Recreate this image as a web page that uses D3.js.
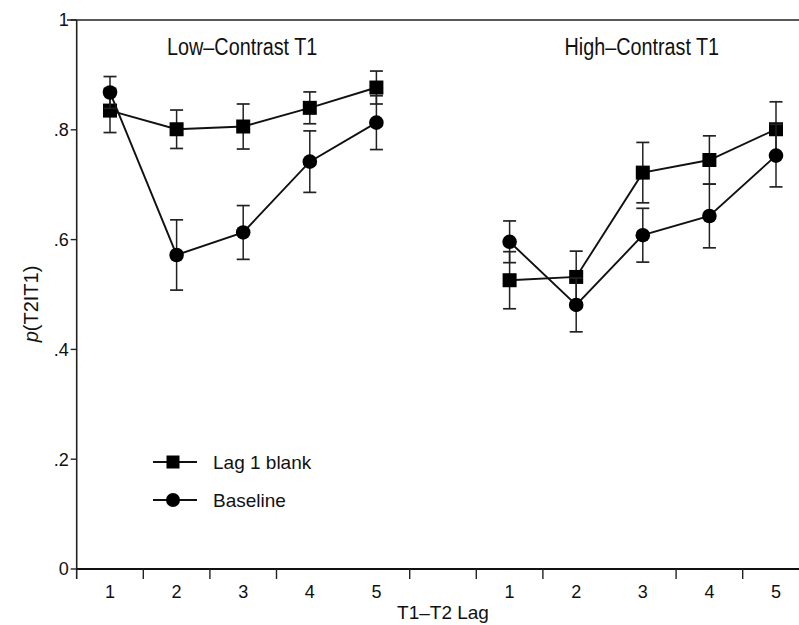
<!DOCTYPE html>
<html>
<head>
<meta charset="utf-8">
<script src="https://cdn.jsdelivr.net/npm/d3@7"></script>
<style>
  body { margin: 0; background: #fff; }
  text { font-family: "Liberation Sans", Arial, Helvetica, sans-serif; fill: #111; }
</style>
</head>
<body>
<div id="chart"></div>
<script>
// values
var lags = [1, 2, 3, 4, 5];
var panelTitles = ["Low\u2013Contrast T1", "High\u2013Contrast T1"];

var blankLow = [0.835, 0.801, 0.806, 0.840, 0.877];
var blankLowErr = [0.040, 0.035, 0.041, 0.029, 0.030];
var baseLow = [0.868, 0.572, 0.613, 0.742, 0.813];
var baseLowErr = [0.029, 0.064, 0.049, 0.056, 0.049];

var blankHigh = [0.526, 0.532, 0.722, 0.745, 0.801];
var blankHighErr = [0.052, 0.047, 0.055, 0.044, 0.050];
var baseHigh = [0.596, 0.481, 0.608, 0.643, 0.753];
var baseHighErr = [0.038, 0.049, 0.049, 0.058, 0.057];

var yTicks = [0, 0.2, 0.4, 0.6, 0.8, 1];
var yTickLabels = ["0", ".2", ".4", ".6", ".8", "1"];
// tick marks between lags (some are missing in the original)
var xTickMarks = [1.5, 2.5, 3.5, 5.5, 6.5, 7.5, 9.5, 10.5];

var legendNames = ["Lag 1 blank", "Baseline"];

var width = 799, height = 625;
var svg = d3.select("#chart").append("svg")
    .attr("width", width)
    .attr("height", height);

var x = d3.scaleLinear().domain([0.5, 11.5]).range([76.7, 809.3]);
var y = d3.scaleLinear().domain([0, 1]).range([569, 20]);

// panel 2 sits 6 positions to the right of panel 1
var panelShift = [0, 6];

var series = [
    {shape: "square", panel: 0, vals: blankLow, err: blankLowErr},
    {shape: "square", panel: 1, vals: blankHigh, err: blankHighErr},
    {shape: "circle", panel: 0, vals: baseLow, err: baseLowErr},
    {shape: "circle", panel: 1, vals: baseHigh, err: baseHighErr}
];

// frame
svg.append("line")
    .attr("x1", 67).attr("x2", width)
    .attr("y1", y(1)).attr("y2", y(1))
    .attr("stroke", "#222").attr("stroke-width", 1.6);
svg.append("line")
    .attr("x1", x(0.5)).attr("x2", x(0.5))
    .attr("y1", y(1)).attr("y2", y(0) + 10)
    .attr("stroke", "#222").attr("stroke-width", 1.6);
svg.append("line")
    .attr("x1", x(0.5)).attr("x2", width)
    .attr("y1", y(0)).attr("y2", y(0))
    .attr("stroke", "#111").attr("stroke-width", 2.2);

// y ticks
var yt = svg.append("g");
yt.selectAll("line").data(yTicks).enter().append("line")
    .attr("x1", x(0.5) - 6).attr("x2", x(0.5))
    .attr("y1", function(d) { return y(d); })
    .attr("y2", function(d) { return y(d); })
    .attr("stroke", "#222").attr("stroke-width", 1.4);
yt.selectAll("text").data(yTicks).enter().append("text")
    .attr("x", x(0.5) - 8)
    .attr("y", function(d) { return y(d); })
    .attr("dy", "0.36em")
    .attr("text-anchor", "end")
    .style("font-size", "18px")
    .text(function(d, i) { return yTickLabels[i]; });

// x ticks
svg.selectAll("line.xtick").data(xTickMarks).enter().append("line")
    .attr("class", "xtick")
    .attr("x1", function(d) { return x(d); })
    .attr("x2", function(d) { return x(d); })
    .attr("y1", y(0)).attr("y2", y(0) + 10)
    .attr("stroke", "#222").attr("stroke-width", 1.4);

panelShift.forEach(function(s) {
    svg.selectAll(null).data(lags).enter().append("text")
        .attr("x", function(d) { return x(d + s); })
        .attr("y", 598)
        .attr("text-anchor", "middle")
        .style("font-size", "18px")
        .text(function(d) { return d; });
});

svg.append("text")
    .attr("x", 443).attr("y", 619)
    .attr("text-anchor", "middle")
    .style("font-size", "19px")
    .text("T1\u2013T2 Lag");

// y label
var yl = svg.append("text")
    .attr("transform", "translate(38,304) rotate(-90)")
    .attr("text-anchor", "middle")
    .style("font-size", "20px");
yl.append("tspan").style("font-style", "italic").text("p");
yl.append("tspan").text("(T2IT1)");

// panel titles: tall, slightly narrow type
svg.selectAll("text.ptitle").data(panelTitles).enter().append("text")
    .attr("class", "ptitle")
    .attr("x", function(d, i) { return x(3 + panelShift[i]) - 1; })
    .attr("y", 55)
    .attr("text-anchor", "middle")
    .style("font-size", "23px")
    .text(function(d) { return d; })
    .each(function() {
        var w = this.getComputedTextLength();
        d3.select(this)
            .attr("textLength", w * 0.86)
            .attr("lengthAdjust", "spacingAndGlyphs");
    });

var line = d3.line()
    .x(function(d) { return x(d.lag); })
    .y(function(d) { return y(d.v); });

var capW = 13, sq = 14, rad = 7.3;

series.forEach(function(sr) {
    var pts = lags.map(function(l, i) {
        return {lag: l + panelShift[sr.panel], v: sr.vals[i], e: sr.err[i]};
    });
    var g = svg.append("g");

    g.append("path")
        .datum(pts)
        .attr("d", line)
        .attr("fill", "none")
        .attr("stroke", "#111")
        .attr("stroke-width", 1.9);

    var eb = g.selectAll("g.err").data(pts).enter().append("g");
    eb.append("line")
        .attr("x1", function(d) { return x(d.lag); })
        .attr("x2", function(d) { return x(d.lag); })
        .attr("y1", function(d) { return y(d.v + d.e); })
        .attr("y2", function(d) { return y(d.v - d.e); })
        .attr("stroke", "#222").attr("stroke-width", 1.5);
    [1, -1].forEach(function(sg) {
        eb.append("line")
            .attr("x1", function(d) { return x(d.lag) - capW / 2; })
            .attr("x2", function(d) { return x(d.lag) + capW / 2; })
            .attr("y1", function(d) { return y(d.v + sg * d.e); })
            .attr("y2", function(d) { return y(d.v + sg * d.e); })
            .attr("stroke", "#222").attr("stroke-width", 1.7);
    });

    if (sr.shape == "square") {
        g.selectAll("rect").data(pts).enter().append("rect")
            .attr("x", function(d) { return x(d.lag) - sq / 2; })
            .attr("y", function(d) { return y(d.v) - sq / 2; })
            .attr("width", sq).attr("height", sq)
            .attr("fill", "#000");
    } else {
        g.selectAll("circle").data(pts).enter().append("circle")
            .attr("cx", function(d) { return x(d.lag); })
            .attr("cy", function(d) { return y(d.v); })
            .attr("r", rad)
            .attr("fill", "#000");
    }
});

// legend
var legend = svg.selectAll("g.legend").data(legendNames).enter().append("g")
    .attr("class", "legend")
    .attr("transform", function(d, i) { return "translate(153," + (462 + i * 38) + ")"; });
legend.append("line")
    .attr("x1", 0).attr("x2", 44)
    .attr("stroke", "#111").attr("stroke-width", 1.8);
legend.filter(function(d, i) { return i == 0; }).append("rect")
    .attr("x", 20 - 6.5).attr("y", -6.5)
    .attr("width", 13).attr("height", 13)
    .attr("fill", "#000");
legend.filter(function(d, i) { return i == 1; }).append("circle")
    .attr("cx", 20).attr("r", 7)
    .attr("fill", "#000");
legend.append("text")
    .attr("x", 60).attr("dy", "0.35em")
    .style("font-size", "19px")
    .text(function(d) { return d; });
</script>
</body>
</html>
